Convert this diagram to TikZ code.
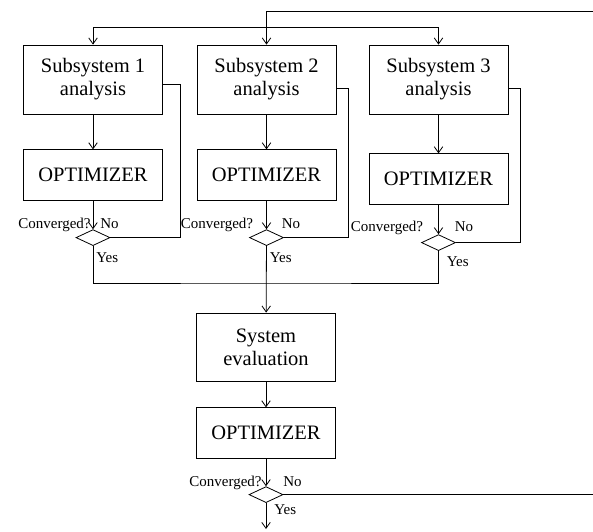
\documentclass[tikz,border=0pt]{standalone}
\usepackage{fontspec}
\setmainfont{Liberation Serif}
\usetikzlibrary{positioning,shapes.geometric,arrows.meta}

\tikzset{
  block/.style={draw, line width=0.8pt, align=center, minimum width=139pt, inner sep=2pt, font=\fontsize{20.5}{23}\selectfont},
  test/.style={draw, diamond, line width=0.8pt, inner sep=0pt, minimum width=34pt, minimum height=16pt},
  lbl/.style={inner sep=0pt, font=\fontsize{15}{17}\selectfont},
  arr/.style={-{Straight Barb[length=6pt,width=8.5pt]}},
}

\begin{document}
\begin{tikzpicture}[x=1pt,y=-1pt,line width=0.8pt]
	\useasboundingbox (0,0) rectangle (593,531);
	%% subsystems
	\node[block, minimum height=69pt] (sub1) at (93,79.5) {Subsystem 1\\analysis};
	\node[block, minimum height=69pt] (sub2) at (266.5,79.5) {Subsystem 2\\analysis};
	\node[block, minimum height=69pt] (sub3) at (438.5,79.5) {Subsystem 3\\analysis};
	\node[block, minimum height=51pt, below =35pt of sub1] (opt1) {OPTIMIZER};
	\node[block, minimum height=51pt, below =35pt of sub2] (opt2) {OPTIMIZER};
	\node[block, minimum height=51pt, below =39pt of sub3] (opt3) {OPTIMIZER};
	\node[test, below =28pt of opt1] (d1) {};
	\node[test, below =28pt of opt2] (d2) {};
	\node[test, below =29pt of opt3] (d3) {};
	%% system level
	\node[block, minimum height=68pt] (sys) at (266,347) {System\\evaluation};
	\node[block, minimum height=51pt, below =26pt of sys] (opt4) {OPTIMIZER};
	\node[test, below =27pt of opt4] (d4) {};
	\coordinate (ret) at (593,11);
	\coordinate (join) at (266,283);
	\coordinate (out) at (266,529);
	% labels at the tests
	\node[lbl, anchor=base east] at ([xshift=-2pt,yshift=1pt]d1.north) {Converged?};
	\node[lbl, anchor=base west] at ([xshift=7pt,yshift=1pt]d1.north) {No};
	\node[lbl, anchor=base west] at ([xshift=3pt,yshift=-16pt]d1.south) {Yes};
	\node[lbl, anchor=base east] at ([xshift=-13pt,yshift=1pt]d2.north) {Converged?};
	\node[lbl, anchor=base west] at ([xshift=15pt,yshift=1pt]d2.north) {No};
	\node[lbl, anchor=base west] at ([xshift=3pt,yshift=-16pt]d2.south) {Yes};
	\node[lbl, anchor=base east] at ([xshift=-15pt,yshift=3pt]d3.north) {Converged?};
	\node[lbl, anchor=base west] at ([xshift=16pt,yshift=3pt]d3.north) {No};
	\node[lbl, anchor=base west] at ([xshift=8pt,yshift=-15pt]d3.south) {Yes};
	\node[lbl, anchor=base east] at ([xshift=-4pt,yshift=0pt]d4.north) {Converged?};
	\node[lbl, anchor=base west] at ([xshift=17pt,yshift=0pt]d4.north) {No};
	\node[lbl, anchor=base west] at ([xshift=8pt,yshift=-11pt]d4.south) {Yes};
	% connectors
	\draw[arr] (ret) -| (sub2.north);
	\draw[arr] ([yshift=17pt]sub1.north) -- (sub1.north);
	\draw[arr] ([yshift=17pt]sub1.north) -| (sub3.north);
	\draw[arr] (sub1) -- (opt1);
	\draw[arr] (sub2) -- (opt2);
	\draw[arr] (sub3) -- (opt3);
	\draw[arr] (opt1) -- (d1);
	\draw[arr] (opt2) -- (d2);
	\draw[arr] (opt3) -- (d3);
	% no: back to the analysis
	\draw ([yshift=-4.5pt]sub1.east) -- ++(17,0) |- (d1.east);
	\draw ([yshift=-8.5pt]sub2.east) -- ++(12,0) |- (d2.east);
	\draw ([yshift=-8.5pt]sub3.east) -- ++(12,0) |- (d3.east);
	% yes: to the system
	\draw (d1.south) |- (join) -| (d3.south);
	\draw[arr] (d2) -- (sys);
	\draw[arr] (sys) -- (opt4);
	\draw[arr] (opt4) -- (d4);
	\draw (d4.east) -- (d4.east -| ret);
	\draw[arr] (d4) -- (out);
\end{tikzpicture}
\end{document}
